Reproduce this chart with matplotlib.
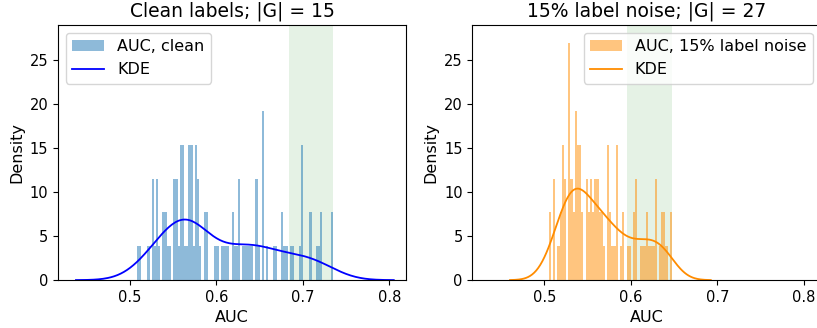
import numpy as np
import matplotlib
matplotlib.use("Agg")
import matplotlib.pyplot as plt

# AUC values (bin centres) and how many runs fell in each
auc_clean = [0.50875, 0.51125, 0.52125, 0.52625, 0.52875, 0.53125, 0.53375, 0.53875,
             0.54125, 0.54375, 0.54625, 0.55125, 0.55375, 0.55625, 0.55875, 0.56125,
             0.56375, 0.56625, 0.56875, 0.57125, 0.57375, 0.57625, 0.57875, 0.58125,
             0.58625, 0.58875, 0.59875, 0.60125, 0.60625, 0.60875, 0.61125, 0.61375,
             0.61875, 0.62125, 0.62375, 0.62625, 0.63125, 0.63375, 0.63625, 0.63875,
             0.64125, 0.64625, 0.64875, 0.65375, 0.65875, 0.66625, 0.66875, 0.67625,
             0.67875, 0.68125, 0.68625, 0.68875, 0.69625, 0.69875, 0.70875, 0.71625,
             0.71875, 0.72125, 0.73375]
count_clean = [1, 1, 1, 3, 1, 3, 1, 2,
               2, 1, 1, 3, 3, 1, 4, 4,
               1, 1, 4, 4, 1, 4, 3, 1,
               2, 2, 1, 1, 1, 1, 1, 1,
               2, 1, 1, 3, 1, 1, 1, 1,
               1, 3, 1, 5, 1, 1, 1, 2,
               1, 1, 1, 1, 1, 4, 2, 1,
               1, 2, 2]

auc_noisy = [0.50625, 0.51125, 0.51625, 0.51875, 0.52125, 0.52375, 0.52875, 0.53125,
             0.53375, 0.53625, 0.53875, 0.54125, 0.54375, 0.54875, 0.55125, 0.55375,
             0.55625, 0.55875, 0.56125, 0.56375, 0.56625, 0.56875, 0.57375, 0.57625,
             0.57875, 0.58125, 0.58375, 0.58875, 0.59125, 0.59625, 0.59875, 0.60375,
             0.60625, 0.61125, 0.61375, 0.61625, 0.61875, 0.62125, 0.62375, 0.62625,
             0.62875, 0.63375, 0.63625, 0.63875, 0.64125, 0.64625]
count_noisy = [2, 3, 1, 2, 4, 3, 7, 3,
               2, 5, 4, 4, 2, 3, 2, 3,
               2, 3, 3, 2, 2, 1, 4, 2,
               1, 1, 4, 1, 2, 1, 1, 2,
               3, 1, 1, 1, 2, 1, 1, 1,
               3, 1, 2, 2, 1, 2]

# selected AUC band (shaded)
band_clean = (0.684, 0.735)
band_noisy = (0.596, 0.648)

titles = ["Clean labels; |G| = 15", "15% label noise; |G| = 27"]
hist_labels = ["AUC, clean", "AUC, 15% label noise"]


def gaussian_kde(samples, cut=3, n=200):
    # scott's rule, like seaborn's kdeplot
    bw = samples.std(ddof=1) * len(samples) ** (-1.0 / 5)
    xs = np.linspace(samples.min() - cut * bw, samples.max() + cut * bw, n)
    z = (xs[:, None] - samples[None, :]) / bw
    ys = np.exp(-0.5 * z ** 2).sum(axis=1) / (len(samples) * bw * np.sqrt(2 * np.pi))
    return xs, ys


bins = np.arange(0.5, 0.7525, 0.0025)

fig, axes = plt.subplots(1, 2, figsize=(8.17, 3.28), dpi=100, sharex=True, sharey=True)
fig.subplots_adjust(left=0.071, right=1.0045, top=0.924, bottom=0.146, wspace=0.19)

panels = [
    (auc_clean, count_clean, band_clean, "tab:blue", "blue"),
    (auc_noisy, count_noisy, band_noisy, "darkorange", "darkorange"),
]

for i, (vals, counts, band, hcol, kcol) in enumerate(panels):
    ax = axes[i]
    samples = np.repeat(np.array(vals), counts)
    ax.axvspan(band[0], band[1], color="green", alpha=0.1, lw=0)
    ax.hist(samples, bins=bins, density=True, color=hcol, alpha=0.5, label=hist_labels[i])
    xs, ys = gaussian_kde(samples)
    ax.plot(xs, ys, color=kcol, lw=1.3, label="KDE")
    ax.set_title(titles[i], fontsize=13.5)
    ax.set_xlabel("AUC", fontsize=11.5)
    ax.set_ylabel("Density", fontsize=11.5)
    ax.tick_params(labelsize=10.5, left=True, labelleft=True)
    ax.legend(loc="upper left" if i == 0 else "upper right", fontsize=11.5)

axes[0].set_xlim(0.4166, 0.8196)
axes[0].set_ylim(0, 29)
axes[0].set_xticks([0.5, 0.6, 0.7, 0.8])

plt.savefig("out.png")
